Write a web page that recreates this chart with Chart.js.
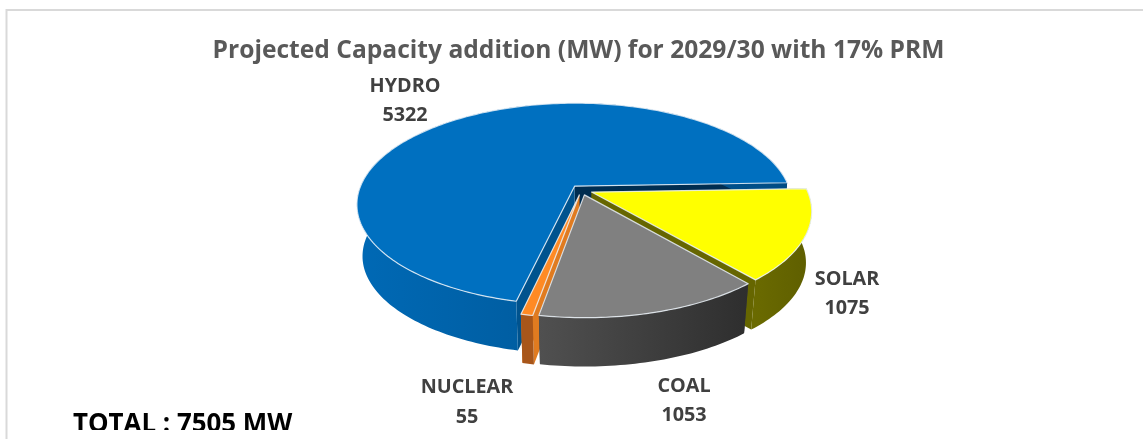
<!DOCTYPE html>
<html>
<head>
<meta charset="utf-8">
<title>Projected Capacity addition</title>
<script src="https://cdn.jsdelivr.net/npm/chart.js@4"></script>
<style>
  html, body { margin: 0; padding: 0; background: #fff; overflow: hidden; }
  canvas { display: block; }
</style>
</head>
<body>
<canvas id="pie" width="1143" height="439"></canvas>
<script>
const categories = ['HYDRO', 'SOLAR', 'COAL', 'NUCLEAR'];
const capacityMW = [5322, 1075, 1053, 55];

const topColors = ['#0070c0', '#ffff00', '#808080', '#ff8a24'];
const wallLeftColors = ['#0069b5', '#6a6a00', '#505050', '#a8561a'];
const wallRightColors = ['#004c84', '#5e5e00', '#2e2e2e', '#a8561a'];
const cutColors = ['#00538e', '#666600', '#3a3a3a', '#e07b20'];
const endCutColors = ['#002d50', '#666600', '#3a3a3a', '#e07b20'];
// back to front; nuclear goes before coal so coal hides most of its cut face
const drawOrder = [0, 1, 3, 2];

const labelSpots = [[405, 86, 115], [847, 279, 308], [684, 386, 415], [467, 387, 417]];

// tilted disc with perspective, fitted to the reference
const view = { x: 581.5, y: 190, a: 215.5, b: 99, p: 0.178, depth: 52, shrink: 0.975 };

function project(u, v, low) {
  const s = low ? view.shrink : 1;
  const w = 1 + view.p * v;
  return [view.x + view.a * s * u / w, view.y + (low ? view.depth : 0) - view.b * s * v / w];
}

function sliceGeometry(arc) {
  const R = arc.outerRadius;
  const mid = (arc.startAngle + arc.endAngle) / 2;
  const off = arc.options.offset / R;
  const ox = off * Math.cos(mid);
  const oy = off * Math.sin(mid);
  const rim = [];
  const steps = Math.max(2, Math.ceil((arc.endAngle - arc.startAngle) / 0.02));
  for (let i = 0; i <= steps; i++) {
    const t = arc.startAngle + (arc.endAngle - arc.startAngle) * i / steps;
    rim.push([ox + Math.cos(t), -(oy + Math.sin(t))]);
  }
  return { centre: [ox, -oy], rim };
}

function fillPath(ctx, pts, fill, stroke) {
  ctx.beginPath();
  pts.forEach((p, i) => i ? ctx.lineTo(p[0], p[1]) : ctx.moveTo(p[0], p[1]));
  ctx.closePath();
  ctx.fillStyle = fill;
  ctx.fill();
  if (stroke) {
    ctx.strokeStyle = stroke;
    ctx.lineWidth = 1.2;
    ctx.lineJoin = 'round';
    ctx.stroke();
  }
}

function drawSlice(ctx, arc, i) {
  const g = sliceGeometry(arc);
  const up = g.rim.map(p => project(p[0], p[1], false));
  const down = g.rim.map(p => project(p[0], p[1], true));
  const cUp = project(g.centre[0], g.centre[1], false);
  const cDown = project(g.centre[0], g.centre[1], true);

  // radial cut faces
  fillPath(ctx, [cUp, up[up.length - 1], down[down.length - 1], cDown], endCutColors[i]);
  fillPath(ctx, [cUp, up[0], down[0], cDown], cutColors[i]);

  // outer wall
  const xs = up.map(p => p[0]).filter((x, k) => up[k][1] > cUp[1] - 30);
  const grad = ctx.createLinearGradient(Math.min(...xs), 0, Math.max(...xs), 0);
  grad.addColorStop(0, wallLeftColors[i]);
  grad.addColorStop(1, wallRightColors[i]);
  fillPath(ctx, up.concat(down.slice().reverse()), grad);

  // top face, coloured by the dataset
  fillPath(ctx, [cUp].concat(up), arc.options.backgroundColor, 'rgba(235,242,248,0.85)');
}

const pie3d = {
  id: 'pie3d',
  beforeDraw(chart) {
    const ctx = chart.ctx;
    ctx.save();
    ctx.strokeStyle = '#d9d9d9';
    ctx.lineWidth = 2;
    ctx.strokeRect(6.5, 10, 1160, 460);
    ctx.restore();
  },
  beforeDatasetsDraw(chart) {
    const ctx = chart.ctx;
    const arcs = chart.getDatasetMeta(0).data;
    ctx.save();
    drawOrder.forEach(i => drawSlice(ctx, arcs[i], i));
    ctx.restore();
    return false;
  },
  afterDraw(chart) {
    const ctx = chart.ctx;
    ctx.save();
    ctx.textAlign = 'center';
    ctx.textBaseline = 'middle';
    ctx.fillStyle = '#404040';
    ctx.font = 'bold 19.8px "Open Sans"';
    categories.forEach((name, i) => {
      ctx.fillText(name, labelSpots[i][0], labelSpots[i][1]);
      ctx.fillText(String(capacityMW[i]), labelSpots[i][0], labelSpots[i][2]);
    });
    // the total sits cut off at the bottom in the reference
    ctx.beginPath();
    ctx.rect(0, 0, 1143, 430);
    ctx.clip();
    ctx.textAlign = 'left';
    ctx.textBaseline = 'alphabetic';
    ctx.fillStyle = '#000';
    ctx.font = 'bold 25.9px "Open Sans"';
    ctx.fillText('TOTAL : 7505 MW', 73, 432);
    ctx.restore();
  }
};

new Chart(document.getElementById('pie'), {
  type: 'pie',
  data: {
    labels: categories,
    datasets: [{
      data: capacityMW,
      backgroundColor: topColors,
      borderWidth: 0,
      offset: 9
    }]
  },
  options: {
    responsive: false,
    animation: false,
    rotation: 192.7,
    layout: { padding: { left: 14 } },
    plugins: {
      legend: { display: false },
      tooltip: { enabled: false },
      title: {
        display: true,
        text: 'Projected Capacity addition (MW) for 2029/30 with 17% PRM',
        color: '#595959',
        font: { family: '"Open Sans"', size: 24.6, weight: 'bold' },
        padding: { top: 36, bottom: 10 }
      }
    }
  },
  plugins: [pie3d]
});
</script>
</body>
</html>
